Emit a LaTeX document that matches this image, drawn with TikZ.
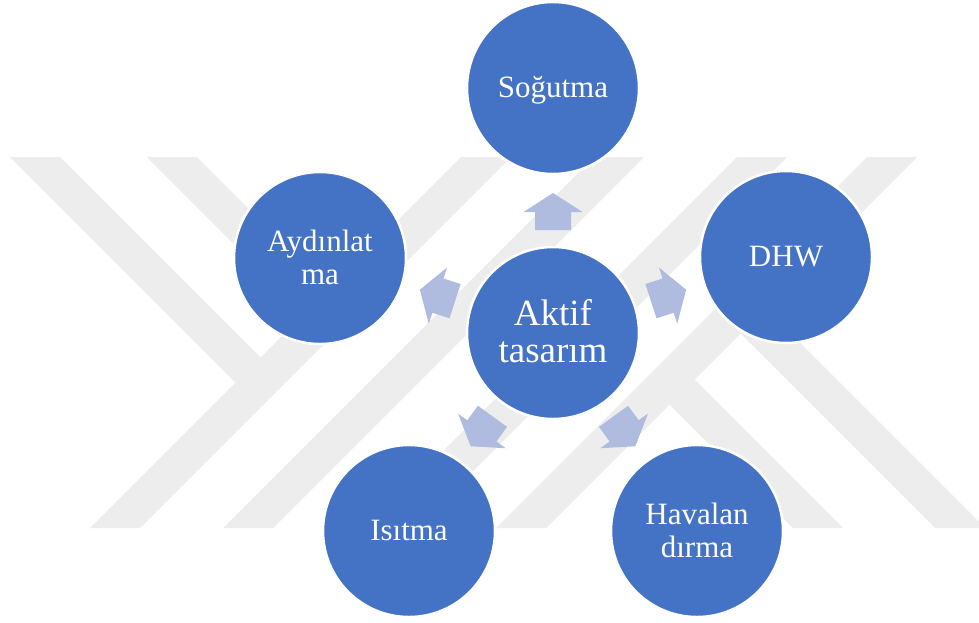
\documentclass[tikz,border=0pt]{standalone}
\usepackage{fontspec}
\setmainfont{Liberation Serif}
\definecolor{wmgray}{RGB}{237,237,237}
\definecolor{discblue}{RGB}{68,114,196}
\definecolor{arrowblue}{RGB}{175,188,223}
% struts that give every text line the same box
\newcommand{\satstrut}{\rule[-7pt]{0pt}{33pt}}
\newcommand{\hubstrut}{\rule[-7.3pt]{0pt}{37pt}}

\begin{document}
\begin{tikzpicture}[x=1pt,y=-1pt,
  band/.style={fill=wmgray},
  disc/.style={circle, fill=discblue, draw=white, line width=2.5pt,
    minimum size=172pt, inner sep=0pt, text=white, align=center,
    font=\fontsize{31}{33}\selectfont},
  hubdisc/.style={disc, font=\fontsize{37}{37}\selectfont},
  blockarrow/.style={fill=arrowblue}]
\useasboundingbox (0,0) rectangle (979,622);
\fill[white] (0,0) rectangle (979,622);

% background emblem made of diagonal bands
\begin{scope}
  \clip (0,157) rectangle (979,528);
  % rising bands
  \fill[band] (90,528) -- (140,528) -- (511,157) -- (461,157) -- cycle;
  \fill[band] (223,528) -- (273,528) -- (644,157) -- (594,157) -- cycle;
  \fill[band] (366,528) -- (416,528) -- (787,157) -- (737,157) -- cycle;
  \fill[band] (496,528) -- (546,528) -- (917,157) -- (867,157) -- cycle;
  % falling bands joining the rising ones
  \fill[band] (10,157) -- (60,157) -- (273,370) -- (248,395) -- cycle;
  \fill[band] (147,157) -- (197,157) -- (341.5,301.5) -- (316.5,326.5) -- cycle;
  \fill[band] (657,392) -- (682,367) -- (843,528) -- (793,528) -- cycle;
  \fill[band] (728,321) -- (753,296) -- (985,528) -- (935,528) -- cycle;
\end{scope}

% hub and satellites
\node[hubdisc] (hub) at (553,333) {\hubstrut Aktif\\\hubstrut tasarım};
\node[disc] (cool) at (553,88) {\satstrut Soğutma};
\node[disc] (dhw) at (786,257) {\satstrut DHW};
\node[disc] (vent) at (697,531) {\satstrut Havalan\\\satstrut dırma};
\node[disc] (heat) at (409,531) {\satstrut Isıtma};
\node[disc] (light) at (320,258) {\satstrut Aydınlat\\\satstrut ma};

% block arrows from the hub towards each satellite
\foreach \ang in {90,18,-54,-126,162}
  \fill[blockarrow, shift={(hub.center)}, rotate=\ang]
    (103,-18) -- (121,-18) -- (121,-29.5) -- (140,0) -- (121,29.5)
    -- (121,18) -- (103,18) -- cycle;
\end{tikzpicture}
\end{document}
